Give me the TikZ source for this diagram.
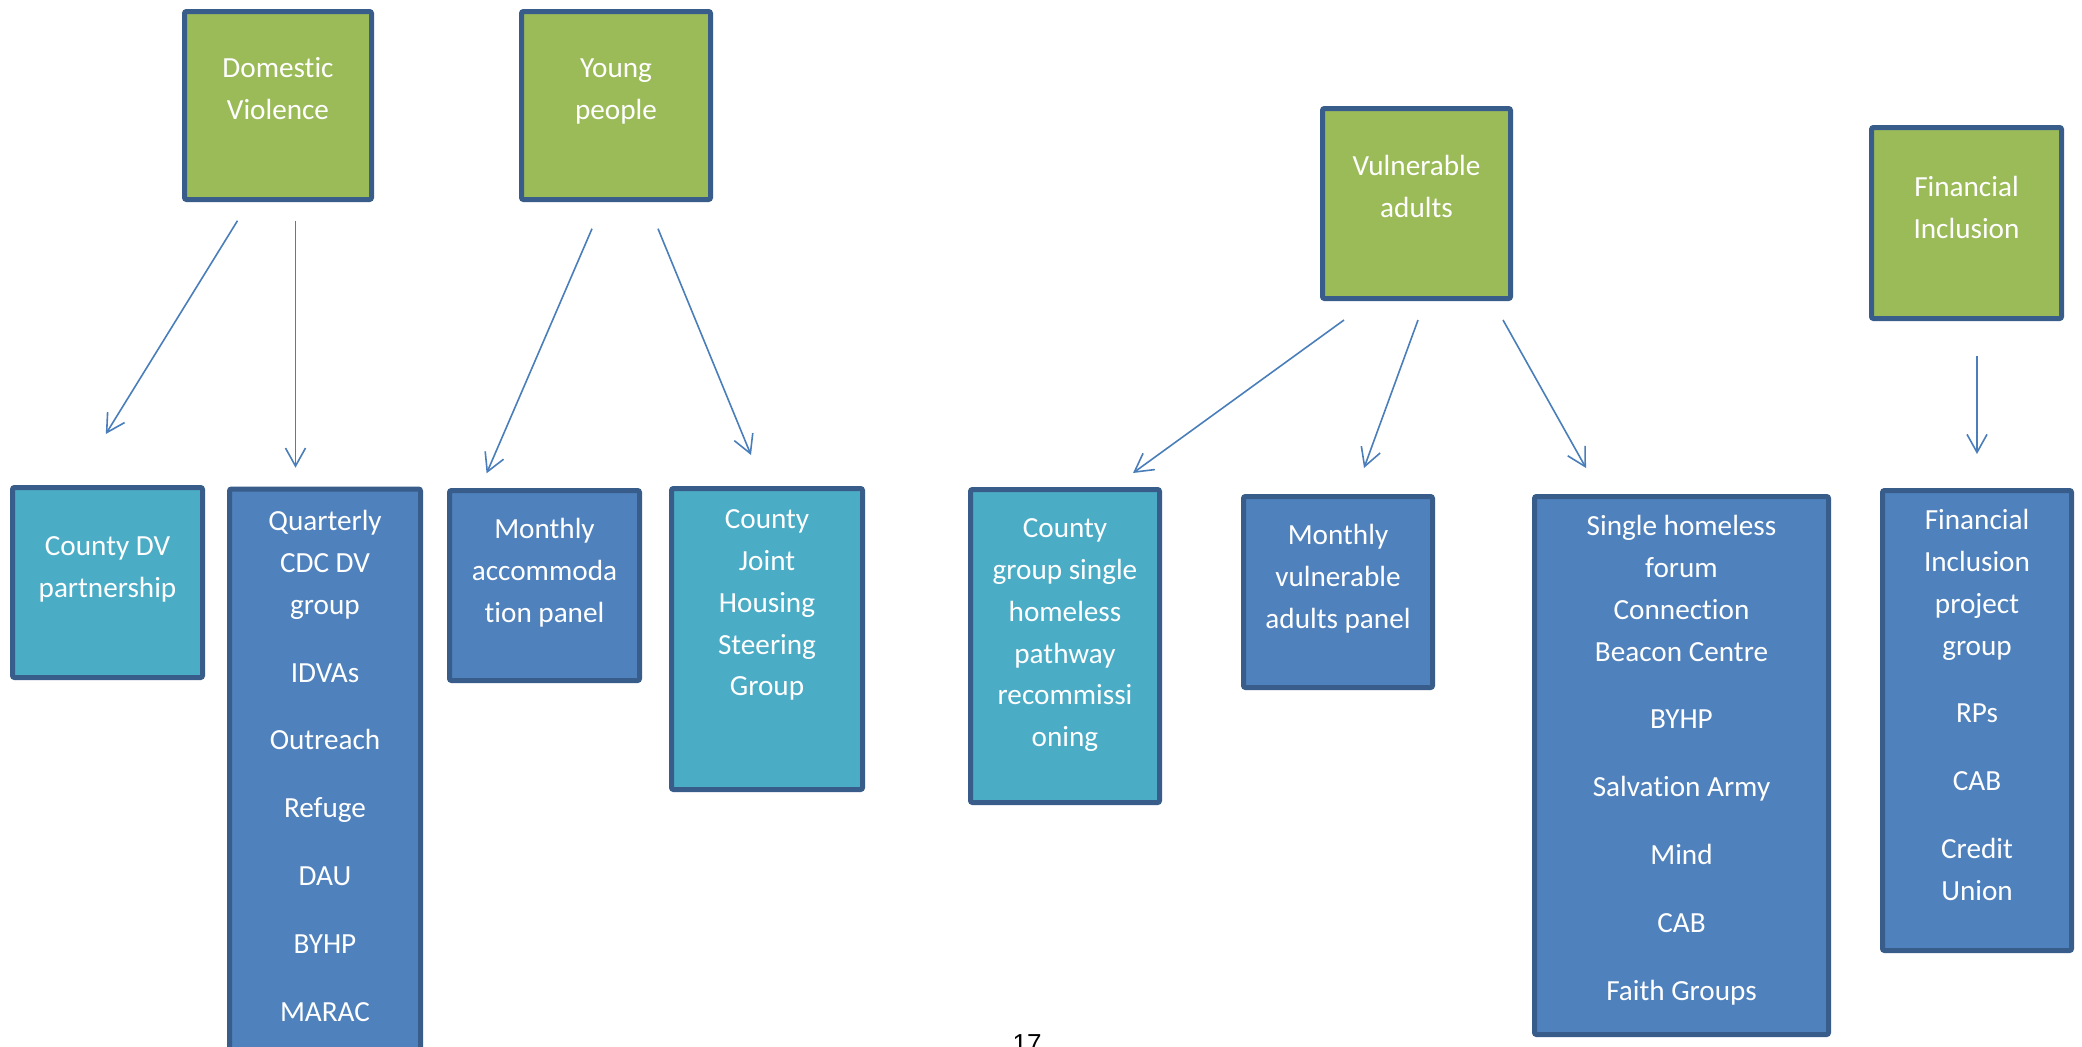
\documentclass[tikz,border=0pt]{standalone}
\usepackage{fontspec}
\setmainfont{Carlito}[Ligatures=NoCommon]
\newfontfamily\pagefont{Liberation Sans}
\usetikzlibrary{arrows.meta}
\definecolor{bordc}{HTML}{385D8A}
\definecolor{greenc}{HTML}{9BBB59}
\definecolor{tealc}{HTML}{4BACC6}
\definecolor{bluec}{HTML}{4F81BD}
\definecolor{arrc}{HTML}{4A7EBB}
\begin{document}
\begin{tikzpicture}[x=0.5pt,y=-0.5pt,
  box/.style={draw=bordc, line width=2.5pt, rounded corners=1pt, inner sep=0pt, outer sep=0pt},
  greenbox/.style={box, fill=greenc},
  tealbox/.style={box, fill=tealc},
  bluebox/.style={box, fill=bluec},
  lbl/.style={text=white, font=\fontsize{14.6}{20.9}\selectfont, align=center, anchor=north, inner sep=0pt},
  arr/.style={draw=arrc, line width=0.8pt, -{Straight Barb[length=9pt,width=10pt]}}]
\useasboundingbox[fill=white] (0,0) rectangle (2082,1046);

% top (green) boxes
\node[greenbox, minimum width=93.5pt, minimum height=94pt] (dv) at (278,105.5) {};
\node[greenbox, minimum width=94.5pt, minimum height=94pt] (yp) at (616,105.5) {};
\node[greenbox, minimum width=94pt, minimum height=95pt] (va) at (1416.5,203.5) {};
\node[greenbox, minimum width=95pt, minimum height=95.5pt] (fi) at (1966.5,223) {};

% lower boxes
\node[tealbox, minimum width=95pt, minimum height=95pt] (cdv) at (107.5,582.5) {};
\node[bluebox, minimum width=95.5pt, minimum height=300pt] (qtr) at (325,789) {};
\node[bluebox, minimum width=95pt, minimum height=95pt] (mac) at (544.5,585.5) {};
\node[tealbox, minimum width=95.5pt, minimum height=150.5pt] (cjh) at (767,639) {};
\node[tealbox, minimum width=94.5pt, minimum height=156.5pt] (cg) at (1065,646) {};
\node[bluebox, minimum width=94.5pt, minimum height=95.5pt] (mvp) at (1338,592) {};
\node[bluebox, minimum width=147pt, minimum height=269pt] (sh) at (1681.5,765.5) {};
\node[bluebox, minimum width=94.5pt, minimum height=230pt] (fip) at (1977,720.5) {};

% texts
\node[lbl] (dvt) at (278,48) {\strut Domestic\\Violence};
\node[lbl] (ypt) at (616,48) {\strut Young\\people};
\node[lbl] (vat) at (1416.5,146) {\strut Vulnerable\\adults};
\node[lbl] (fit) at (1966.5,167) {\strut Financial\\Inclusion};

\node[lbl] (cdvt) at (107.5,526) {\strut County DV\\partnership};
\node[lbl] (qtrt) at (325,501) {\strut Quarterly\\CDC DV\\group\\[13pt]IDVAs\\[13pt]Outreach\\[13pt]Refuge\\[13pt]DAU\\[13pt]BYHP\\[13pt]MARAC};
\node[lbl] (mact) at (544.5,509) {\strut Monthly\\accommoda\\tion panel};
\node[lbl] (cjht) at (767,499) {\strut County\\Joint\\Housing\\Steering\\Group};
\node[lbl] (cgt) at (1065,508) {\strut County\\group single\\homeless\\pathway\\recommissi\\oning};
\node[lbl] (mvpt) at (1338,515) {\strut Monthly\\vulnerable\\adults panel};
\node[lbl] (sht) at (1681.5,506) {\strut Single homeless\\forum\\Connection\\Beacon Centre\\[13pt]BYHP\\[13pt]Salvation Army\\[13pt]Mind\\[13pt]CAB\\[13pt]Faith Groups};
\node[lbl] (fipt) at (1977,500) {\strut Financial\\Inclusion\\project\\group\\[13pt]RPs\\[13pt]CAB\\[13pt]Credit\\Union};

% page number
\node[font=\pagefont\fontsize{13}{15}\selectfont, anchor=base, inner sep=0pt] (pg) at (1027,1052) {17};

% arrow end points
\coordinate (a1s) at (237.5,220.7);  \coordinate (a1e) at (105.8,434);
\coordinate (a2s) at (295.5,220.7);  \coordinate (a2e) at (295.5,467.7);
\coordinate (a3s) at (592,228.7);    \coordinate (a3e) at (486.6,473.3);
\coordinate (a4s) at (658,228.7);    \coordinate (a4e) at (751,455);
\coordinate (a5s) at (1344,320);     \coordinate (a5e) at (1133,473);
\coordinate (a6s) at (1418,320);     \coordinate (a6e) at (1364,468);
\coordinate (a7s) at (1503,320);     \coordinate (a7e) at (1586,468);
\coordinate (a8s) at (1977,356);     \coordinate (a8e) at (1977,454);

\draw[arr] (a1s) -- (a1e);
\draw[arr] (a2s) -- (a2e);
\draw[arr] (a3s) -- (a3e);
\draw[arr] (a4s) -- (a4e);
\draw[arr] (a5s) -- (a5e);
\draw[arr] (a6s) -- (a6e);
\draw[arr] (a7s) -- (a7e);
\draw[arr] (a8s) -- (a8e);
\end{tikzpicture}
\end{document}
